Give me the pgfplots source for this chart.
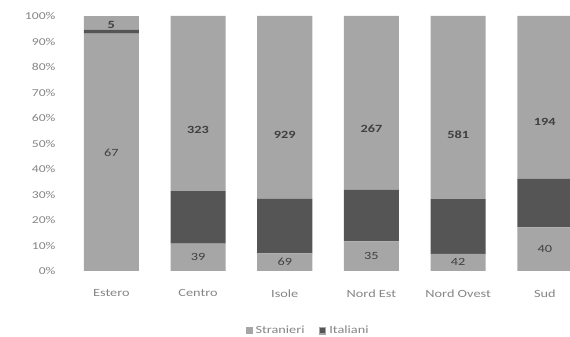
\documentclass[border=0pt]{standalone}
\usepackage{pgfplots}
\pgfplotsset{compat=1.18}
\usepackage{pgfplotstable}
\usepackage{fontspec}
\setmainfont{Carlito}[FakeStretch=1.3]
\definecolor{ltg}{HTML}{A6A6A6}
\definecolor{dkg}{HTML}{555555}
\definecolor{txt}{HTML}{858585}
\definecolor{lbl}{HTML}{404040}
\pgfplotstableread{
x s i
0 67 5
1 39 323
2 69 929
3 35 267
4 42 581
5 40 194
}\data
\begin{document}
\begin{tikzpicture}
\useasboundingbox (0,0) rectangle (570pt,337pt);
\clip (0,0) rectangle (570pt,337pt);
\pgfplotsset{base/.style={scale only axis, width=520.2pt, height=255pt,
  at={(68pt,66pt)}, anchor=south west, xmin=-0.5, xmax=5.5, ymin=0, ymax=100,
  /pgf/number format/assume math mode=true}}
\begin{axis}[base, ybar stacked, bar width=55pt,
  axis line style={draw=none}, major tick length=0pt, tick style={draw=none},
  ytick={0,10,...,100}, yticklabel={\pgfmathprintnumber{\tick}\%},
  yticklabel style={font=\fontsize{10.5}{12}\selectfont, text=txt, xshift=-9pt},
  xtick=data, xticklabels={Estero,Centro,Isole,Nord Est,Nord Ovest,Sud},
  xticklabel style={font=\fontsize{11}{13}\selectfont, text=txt, yshift=-15pt},
  legend style={at={(0.462,-0.235)}, anchor=center, draw=none, fill=none,
    legend columns=-1, font=\fontsize{11}{13}\selectfont, text=txt,
    /tikz/every even column/.append style={column sep=12pt},
    /tikz/every odd column/.append style={column sep=1pt}},
  legend image code/.code={\path[#1] (0pt,-3pt) rectangle (6.5pt,3.5pt);},
]
\addplot[fill=ltg, draw=none, forget plot] table[x=x, y expr=100*\thisrow{s}/(\thisrow{s}+\thisrow{i})] {\data};
\addplot[fill=dkg, draw=none, forget plot] table[x=x, y expr=0.23*100*\thisrow{i}/(\thisrow{s}+\thisrow{i})] {\data};
\addplot[fill=ltg, draw=none, forget plot] table[x=x, y expr=0.77*100*\thisrow{i}/(\thisrow{s}+\thisrow{i})] {\data};
\addlegendimage{fill=ltg, draw=none}
\addlegendentry{Stranieri}
\addlegendimage{fill=dkg, draw=ltg, line width=1.2pt}
\addlegendentry{Italiani}
\end{axis}
\begin{axis}[base, hide axis, clip=false]
\addplot[draw=none, mark=none, nodes near coords, point meta=explicit,
  every node near coord/.append style={anchor=center, text=lbl, font=\fontsize{11}{13}\selectfont}]
  table[x=x, y expr=50*\thisrow{s}/(\thisrow{s}+\thisrow{i}), meta=s] {\data};
\addplot[draw=none, mark=none, nodes near coords, point meta=explicit,
  every node near coord/.append style={anchor=center, text=lbl, font=\bfseries\fontsize{11}{13}\selectfont}]
  table[x=x, y expr=50+50*\thisrow{s}/(\thisrow{s}+\thisrow{i}), meta=i] {\data};
\end{axis}
\end{tikzpicture}
\end{document}
